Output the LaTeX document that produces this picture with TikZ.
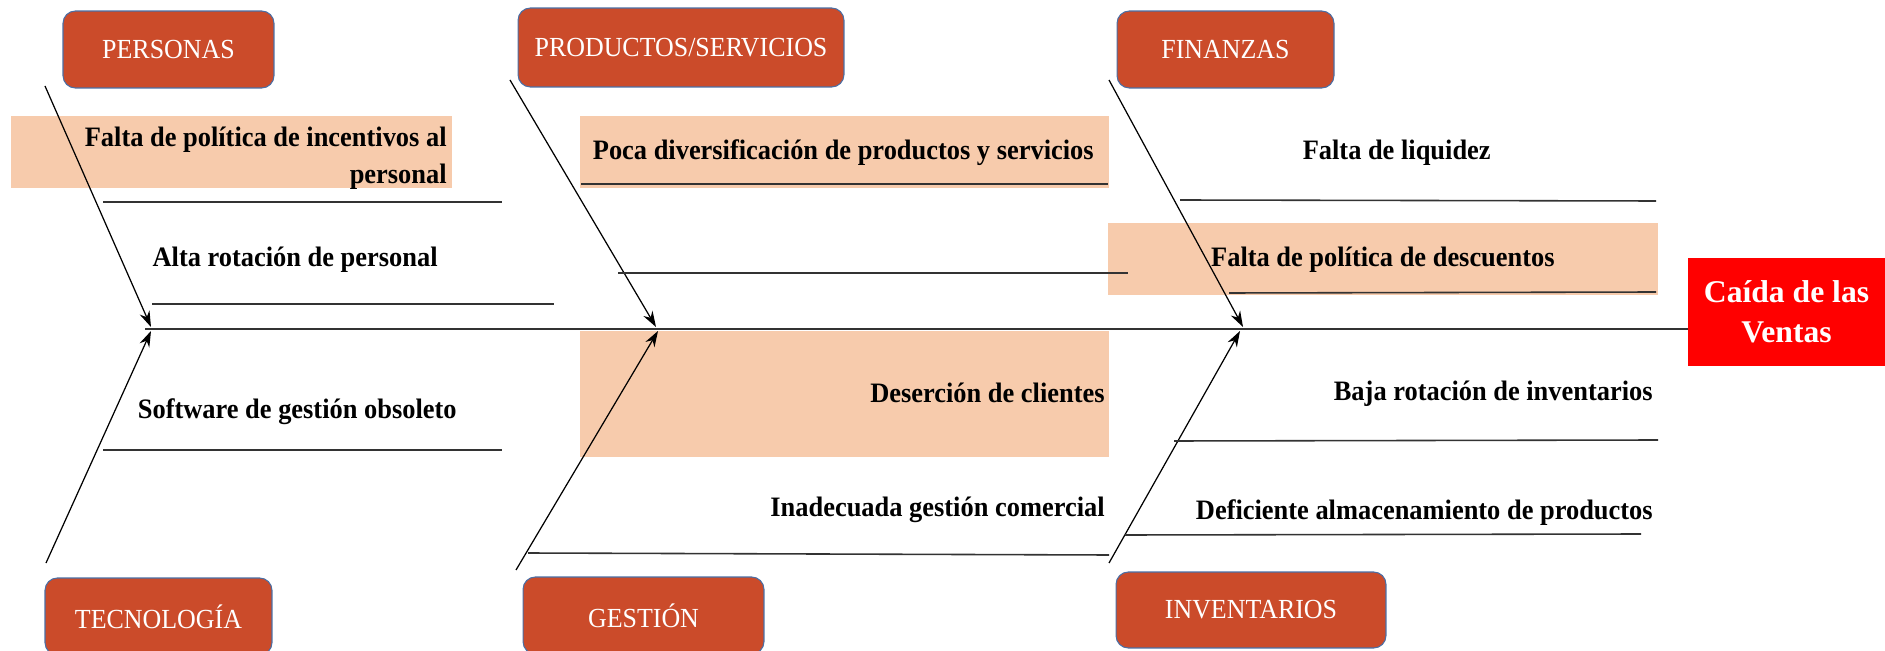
\documentclass[tikz,border=0pt]{standalone}
\usepackage{fontspec}
\setmainfont{Liberation Serif}
\newfontfamily\causefont{Liberation Serif}[FakeStretch=0.94]
\newfontfamily\catfont{Liberation Serif}[FakeStretch=0.94]
\usetikzlibrary{arrows.meta}
\definecolor{rust}{HTML}{CB4B2A}
\definecolor{peach}{HTML}{F7CBAC}
\definecolor{edgeblue}{HTML}{4A6FA5}
\definecolor{effectred}{HTML}{FF0000}

\begin{document}
\begin{tikzpicture}[x=0.02cm, y=-0.02cm,
    catbox/.style={rectangle, rounded corners=7pt, draw=edgeblue, line width=0.6pt, fill=rust, text=white, font=\catfont\fontsize{15.7}{18}\selectfont},
    effectbox/.style={rectangle, fill=effectred, text=white, align=center, font=\fontsize{18}{23}\selectfont\bfseries},
    cause/.style={inner sep=0pt, font=\causefont\fontsize{16}{21}\selectfont\bfseries},
    hilite/.style={fill=peach, draw=none},
    bone/.style={-{Stealth[length=9pt, width=6pt]}, line width=0.7pt},
    subline/.style={line width=0.9pt, draw=black!80}
]
\useasboundingbox (0,0) rectangle (1885,651);

% highlighted causes
\fill[hilite] (11,116) rectangle (452,188);
\fill[hilite] (580,116) rectangle (1109,188);
\fill[hilite] (580,331) rectangle (1109,457);
\fill[hilite] (1108,223) rectangle (1658,295);

% categories
\node[catbox, minimum width=4.22cm, minimum height=1.54cm] (personas) at (168.5,49.5) {PERSONAS};
\node[catbox, minimum width=6.52cm, minimum height=1.58cm] (productos) at (681,47.5) {PRODUCTOS/SERVICIOS};
\node[catbox, minimum width=4.34cm, minimum height=1.54cm] (finanzas) at (1225.5,49.5) {FINANZAS};
\node[catbox, minimum width=4.54cm, minimum height=1.54cm] (tecnologia) at (158.5,616.5) {TECNOLOGÍA};
\node[catbox, minimum width=4.82cm, minimum height=1.54cm] (gestion) at (643.5,615.5) {GESTIÓN};
\node[catbox, minimum width=5.4cm, minimum height=1.52cm] (inventarios) at (1251,610) {INVENTARIOS};

% effect
\node[effectbox, minimum width=3.94cm, minimum height=2.16cm] (caida) at (1786.5,312) {Caída de las\\Ventas};

% spine
\coordinate (spine) at (145,329);
\draw[subline] (spine) -- (spine -| caida.west);

% bones
\coordinate (personasTop) at (45,86);
\coordinate (personasEnd) at (151,327);
\coordinate (tecnologiaBot) at (46,563);
\coordinate (tecnologiaEnd) at (151,331);
\coordinate (productosTop) at (510,80);
\coordinate (productosEnd) at (656,327);
\coordinate (gestionBot) at (516,570);
\coordinate (gestionEnd) at (658,331);
\coordinate (finanzasTop) at (1109,80);
\coordinate (finanzasEnd) at (1243,327);
\coordinate (inventariosBot) at (1109,563);
\coordinate (inventariosEnd) at (1240,331);
\draw[bone] (personasTop) -- (personasEnd);
\draw[bone] (tecnologiaBot) -- (tecnologiaEnd);
\draw[bone] (productosTop) -- (productosEnd);
\draw[bone] (gestionBot) -- (gestionEnd);
\draw[bone] (finanzasTop) -- (finanzasEnd);
\draw[bone] (inventariosBot) -- (inventariosEnd);

% sub-cause lines
\coordinate (incentivosA) at (103,202);  \coordinate (incentivosB) at (502,202);
\coordinate (rotacionA) at (152,304);    \coordinate (rotacionB) at (554,304);
\coordinate (softwareA) at (103,450);    \coordinate (softwareB) at (502,450);
\coordinate (diversA) at (581,184);      \coordinate (diversB) at (1108,184);
\coordinate (emptyA) at (618,273);       \coordinate (emptyB) at (1128,273);
\coordinate (comercialA) at (528,553);   \coordinate (comercialB) at (1109,555);
\coordinate (liquidezA) at (1180,200);   \coordinate (liquidezB) at (1656,201);
\coordinate (descuentosA) at (1229,293); \coordinate (descuentosB) at (1656,292);
\coordinate (bajaA) at (1174,441);       \coordinate (bajaB) at (1658,440);
\coordinate (almacenA) at (1125,535);    \coordinate (almacenB) at (1641,534);
\draw[subline] (incentivosA) -- (incentivosB);
\draw[subline] (rotacionA) -- (rotacionB);
\draw[subline] (softwareA) -- (softwareB);
\draw[subline] (diversA) -- (diversB);
\draw[subline] (emptyA) -- (emptyB);
\draw[subline] (comercialA) -- (comercialB);
\draw[subline] (liquidezA) -- (liquidezB);
\draw[subline] (descuentosA) -- (descuentosB);
\draw[subline] (bajaA) -- (bajaB);
\draw[subline] (almacenA) -- (almacenB);

% cause texts
\node[cause, anchor=east, align=right] (incentivos) at (447,158) {Falta de política de incentivos al\\personal};
\node[cause, anchor=east] (rotacion) at (438,260) {Alta rotación de personal};
\node[cause, anchor=east] (software) at (457,412) {Software de gestión obsoleto};
\node[cause, anchor=east] (divers) at (1094,153) {Poca diversificación de productos y servicios};
\node[cause, anchor=east] (desercion) at (1105,393) {Deserción de clientes};
\node[cause, anchor=east] (comercial) at (1105,510) {Inadecuada gestión comercial};
\node[cause, anchor=east] (liquidez) at (1491,153) {Falta de liquidez};
\node[cause, anchor=east] (descuentos) at (1555,260) {Falta de política de descuentos};
\node[cause, anchor=east] (baja) at (1653,394) {Baja rotación de inventarios};
\node[cause, anchor=east] (almacen) at (1653,513) {Deficiente almacenamiento de productos};

\end{tikzpicture}
\end{document}
